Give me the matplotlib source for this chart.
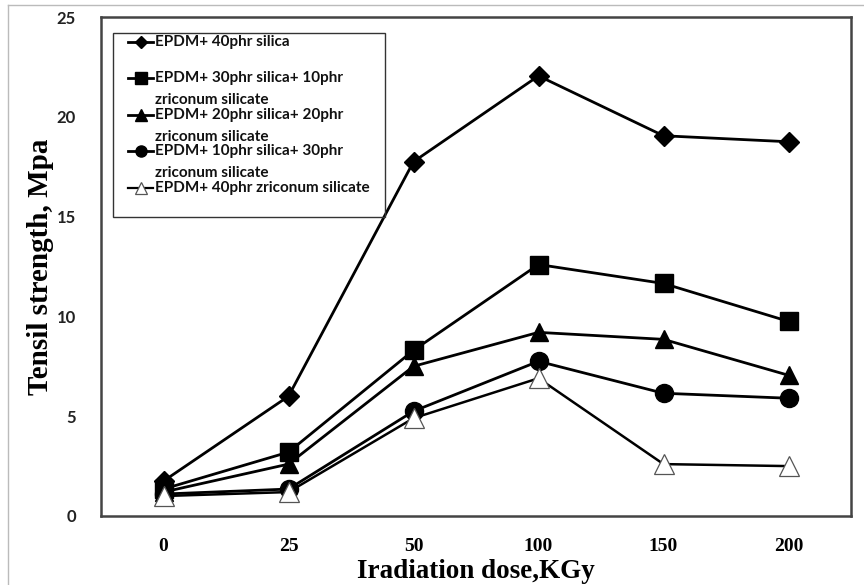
import matplotlib
matplotlib.use("Agg")
import matplotlib.pyplot as plt
from matplotlib.lines import Line2D
from matplotlib.patches import Rectangle

# ---- data ----
doses = ["0", "25", "50", "100", "150", "200"]
silica40 = [1.75, 6.0, 17.75, 22.05, 19.05, 18.75]
silica30_zr10 = [1.35, 3.2, 8.3, 12.6, 11.65, 9.75]
silica20_zr20 = [1.2, 2.6, 7.5, 9.2, 8.85, 7.05]
silica10_zr30 = [1.1, 1.35, 5.25, 7.75, 6.15, 5.9]
zr40 = [1.0, 1.2, 4.9, 6.9, 2.6, 2.5]
labels = [
    ["EPDM+ 40phr silica"],
    ["EPDM+ 30phr silica+ 10phr", "zriconum silicate"],
    ["EPDM+ 20phr silica+ 20phr", "zriconum silicate"],
    ["EPDM+ 10phr silica+ 30phr", "zriconum silicate"],
    ["EPDM+ 40phr zriconum silicate"],
]
yticks = [0, 5, 10, 15, 20, 25]

W, H = 864, 585
fig = plt.figure(figsize=(W / 100, H / 100), dpi=100)
fig.patch.set_facecolor("white")

L, R, T, B = 101, 851, 17, 516
ax = fig.add_axes([L / W, 1 - B / H, (R - L) / W, (B - T) / H])

x = list(range(len(doses)))
styles = [
    dict(marker="D", ms=10, mfc="black", mec="black", lw=2.0, color="black"),
    dict(marker="s", ms=13, mfc="black", mec="black", lw=2.0, color="black"),
    dict(marker="^", ms=13, mfc="black", mec="black", lw=2.0, color="black"),
    dict(marker="o", ms=13, mfc="black", mec="black", lw=2.0, color="black"),
    dict(marker="^", ms=14, mfc="white", mec="#555555", mew=0.9, lw=1.8, color="black"),
]
series = [silica40, silica30_zr10, silica20_zr20, silica10_zr30, zr40]
for i, (ys, st) in enumerate(zip(series, styles)):
    ax.plot(x, ys, zorder=3 + i, clip_on=False, **st)

ax.set_xlim(-0.5, len(doses) - 0.5)
ax.set_ylim(0, 25)
ax.set_xticks(x)
ax.set_xticklabels(doses, fontfamily="Liberation Serif", fontweight="bold",
                   fontsize=14)
ax.set_yticks(yticks)
ax.set_yticklabels([str(v) for v in yticks], fontfamily="Lato",
                   fontweight="bold", fontsize=12, color="#222222")
ax.tick_params(axis="both", length=0)
ax.tick_params(axis="x", pad=16)
ax.tick_params(axis="y", pad=18)
for s in ax.spines.values():
    s.set_linewidth(1.8)
    s.set_color("#444444")

ax.set_ylabel("Tensil strength, Mpa", fontfamily="Liberation Serif",
              fontweight="bold", fontsize=21, va="center")
ax.yaxis.set_label_coords((40 - L) / (R - L), 0.5)
ax.set_xlabel("Iradiation dose,KGy", fontfamily="Liberation Serif",
              fontweight="bold", fontsize=19.5, va="center")
ax.xaxis.set_label_coords(0.5, (B - 571) / (B - T))

# ---- legend (drawn manually to match original layout) ----
def fx(px):
    return px / W

def fy(py):
    return 1 - py / H

fig.patches.append(Rectangle((fx(113), fy(217)), fx(385) - fx(113),
                             fy(33) - fy(217), transform=fig.transFigure,
                             fill=False, edgecolor="#333333", lw=1.0,
                             zorder=20))
ys_leg = [42, 78, 115, 151, 188]
leg_styles = [
    dict(marker="D", ms=6),
    dict(marker="s", ms=8),
    dict(marker="^", ms=8),
    dict(marker="o", ms=8),
    dict(marker="^", ms=8),
]
for i, (yy, lab) in enumerate(zip(ys_leg, labels)):
    st = dict(styles[i])
    st.update(leg_styles[i])
    st["lw"] = 2.0 if i < 4 else 1.6
    line = Line2D([fx(128), fx(140.5), fx(153)], [fy(yy)] * 3,
                  transform=fig.transFigure, markevery=[1], **st)
    fig.lines.append(line)
    for k, part in enumerate(lab):
        fig.text(fx(155), fy(yy + 22 * k), part, ha="left", va="center",
                 fontfamily="Lato", fontweight="bold", fontsize=11,
                 color="#111111")

# outer light frame
fig.lines.append(Line2D([fx(8), fx(8)], [0, fy(5)], transform=fig.transFigure,
                        color="#bbbbbb", lw=1.0))
fig.lines.append(Line2D([fx(8), 1], [fy(5), fy(5)], transform=fig.transFigure,
                        color="#bbbbbb", lw=1.0))

fig.savefig("out.png", dpi=100)
